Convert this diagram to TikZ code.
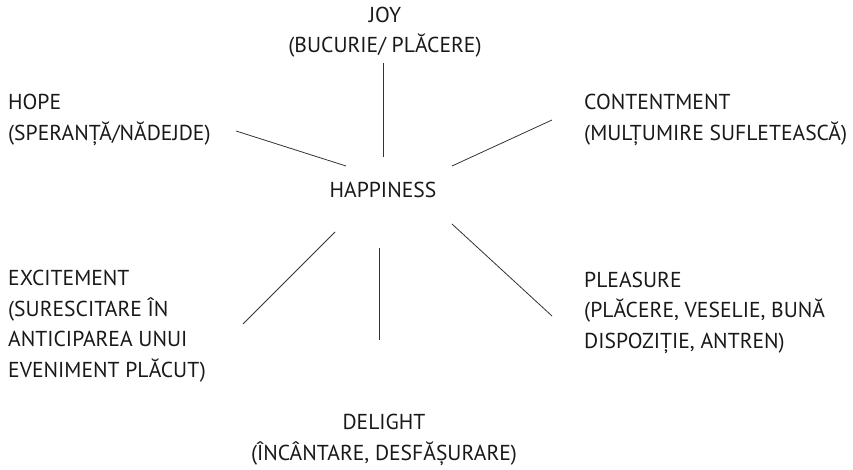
\documentclass[tikz,border=0pt]{standalone}
\usepackage{fontspec}
\setmainfont{PT Sans}
\usepackage{tikz}
\tikzset{
  word/.style = {inner sep=0pt, text=black!90,
    font=\fontsize{21.6}{30.5}\selectfont},
  word_c/.style = {word, align=center, anchor=base},% mot centre, base = derniere ligne
  word_l/.style = {word, align=left, anchor=base west},% mot a gauche
  spoke/.style = {draw=black!80, line width=0.8pt}
}

\begin{document}
\begin{tikzpicture}[x=1pt,y=-1pt]
    \useasboundingbox (0,0) rectangle (853,470);
    % words
    \node [word_c] (happy) at (383,198) {HAPPINESS};
    \node [word_c] (joy) at (385,53) {JOY\\(BUCURIE/ PLĂCERE)};
    \node [word_l] (hope) at (8,140.5) {HOPE\\(SPERANȚĂ/NĂDEJDE)};
    \node [word_l] (content) at (584,140.5) {CONTENTMENT\\(MULȚUMIRE SUFLETEASCĂ)};
    \node [word_l] (excite) at (8,377) {EXCITEMENT\\(SURESCITARE ÎN\\ANTICIPAREA UNUI\\EVENIMENT PLĂCUT)};
    \node [word_l] (pleasure) at (584,348) {PLEASURE\\(PLĂCERE, VESELIE, BUNĂ\\DISPOZIȚIE, ANTREN)};
    \node [word_c] (delight) at (384,460) {DELIGHT\\(ÎNCÂNTARE, DESFĂȘURARE)};
    % spoke ends
    \coordinate (joy_a) at (383,63);     \coordinate (joy_b) at (383,157);
    \coordinate (hope_a) at (236,131);   \coordinate (hope_b) at (346,166);
    \coordinate (content_a) at (552,120); \coordinate (content_b) at (452,166);
    \coordinate (excite_a) at (243,324); \coordinate (excite_b) at (335,232);
    \coordinate (delight_a) at (379,340); \coordinate (delight_b) at (379,248);
    \coordinate (pleasure_a) at (552,316); \coordinate (pleasure_b) at (452,224);
    \foreach \w in {joy,hope,content,excite,delight,pleasure}
        \draw [spoke] (\w_a) -- (\w_b);
\end{tikzpicture}
\end{document}
